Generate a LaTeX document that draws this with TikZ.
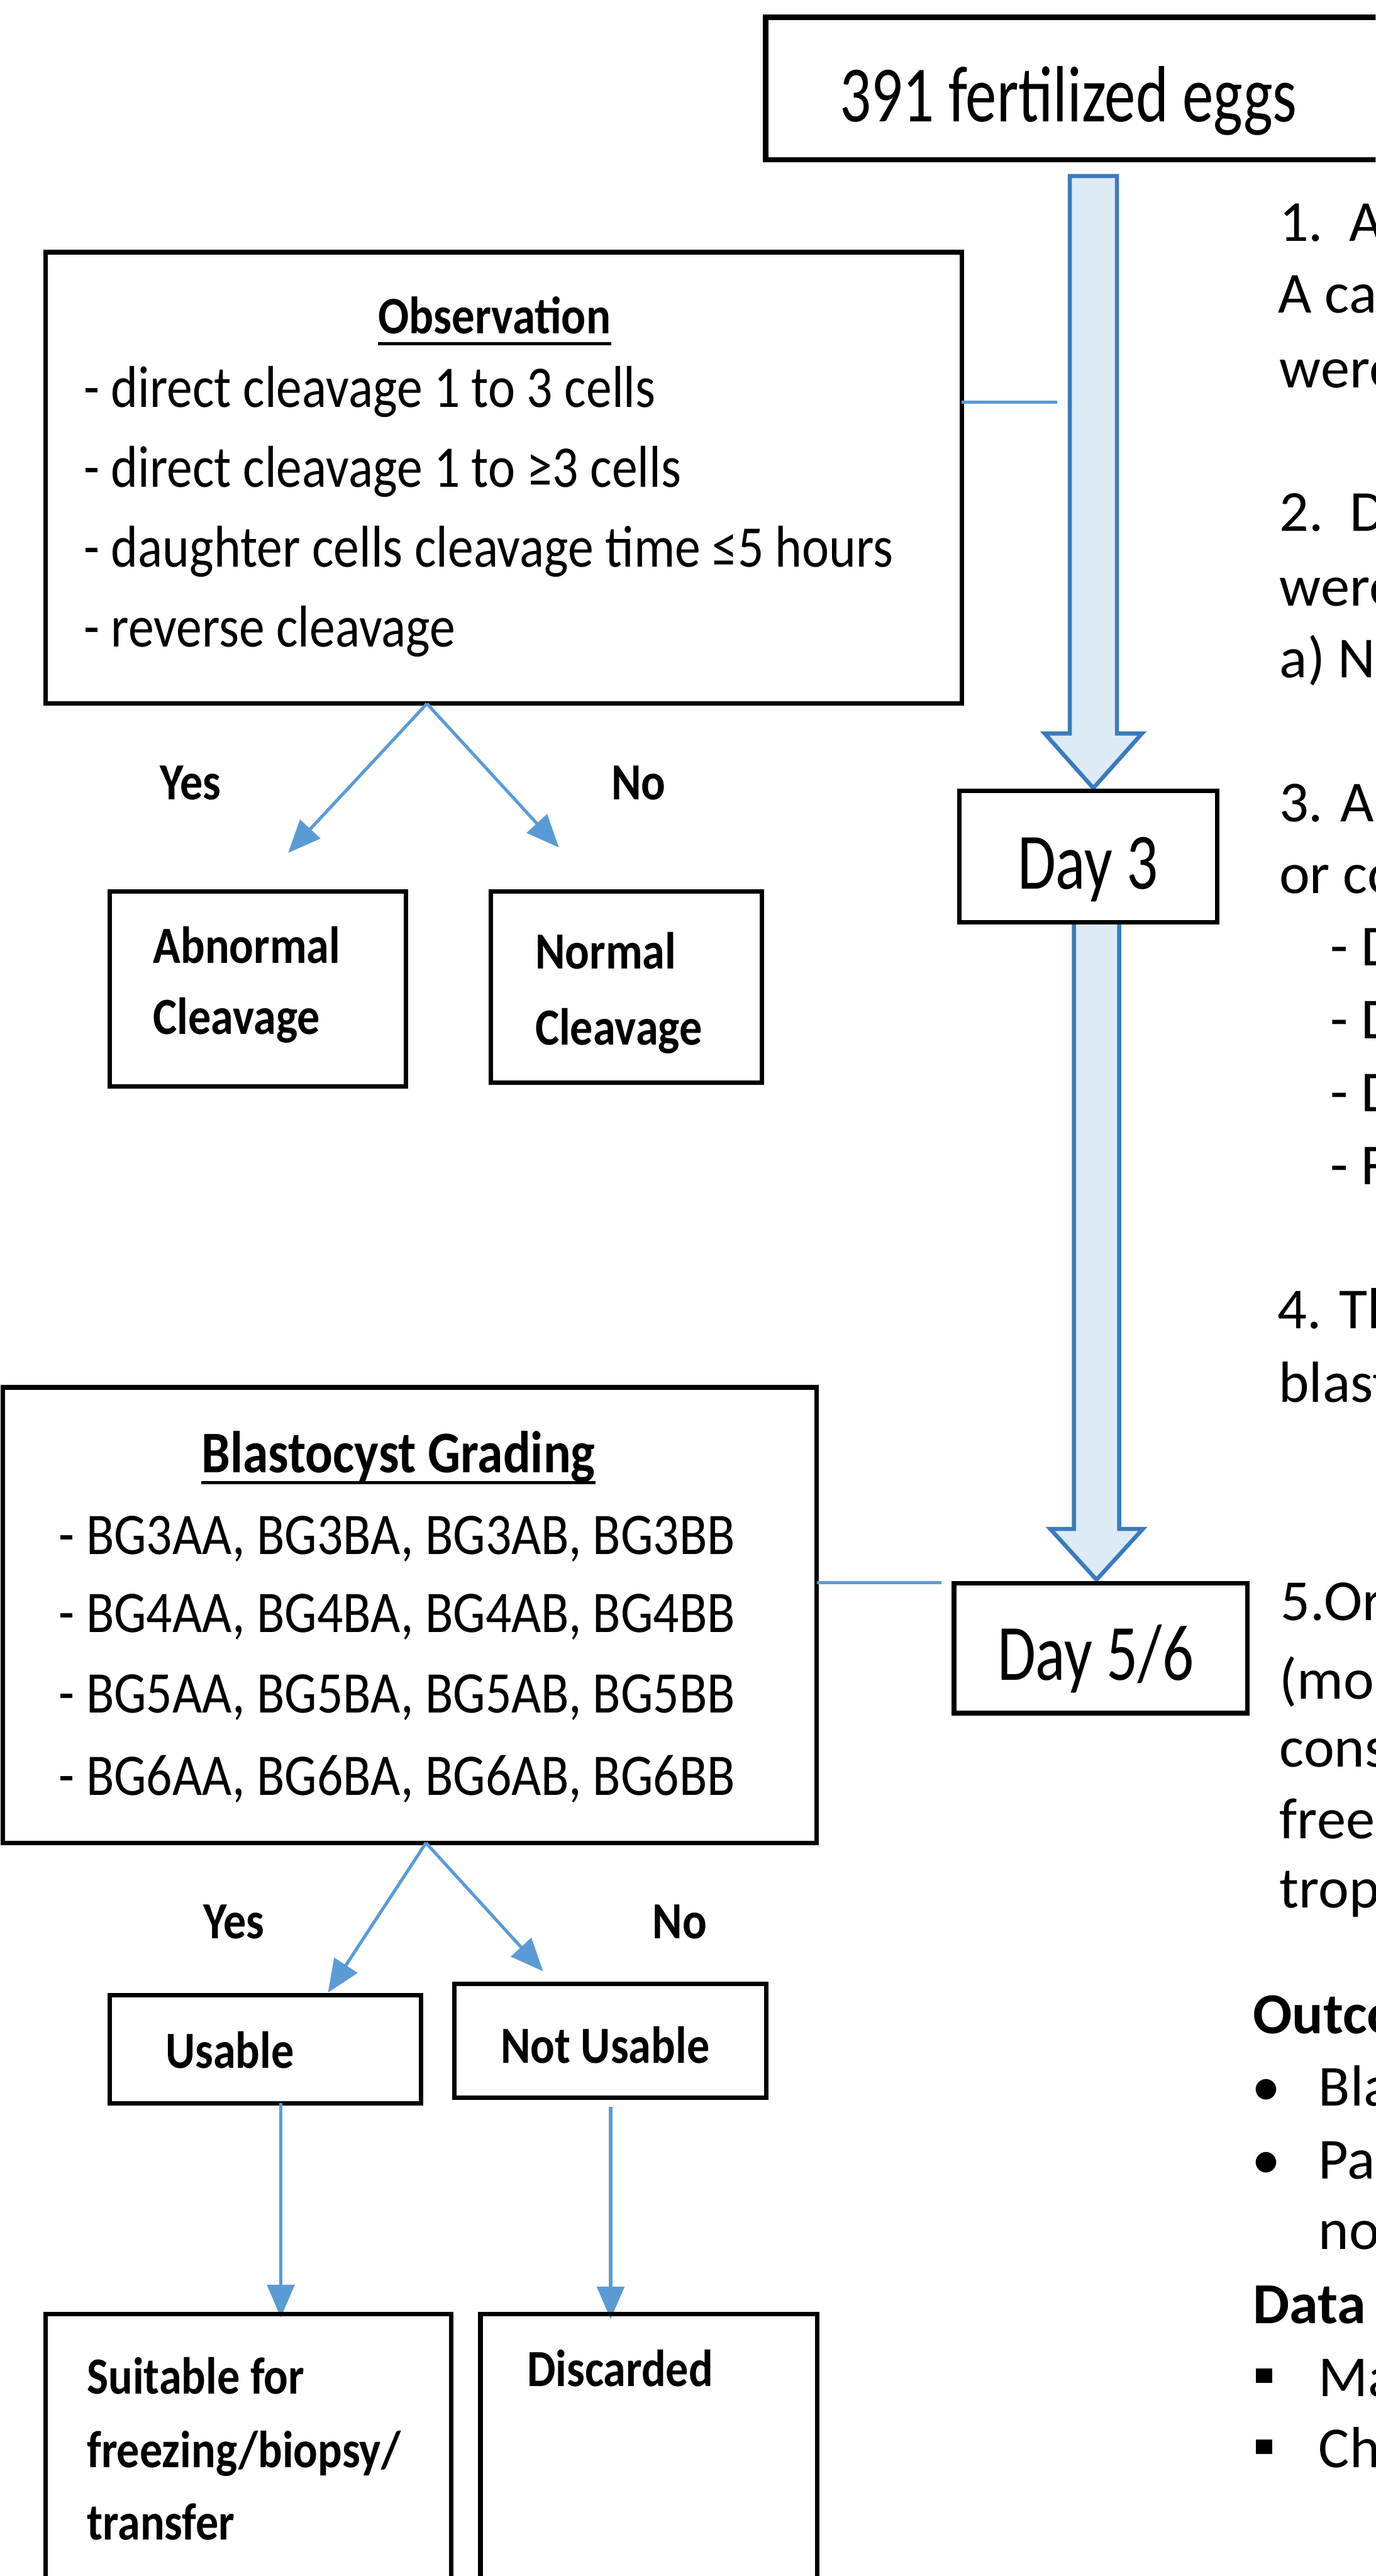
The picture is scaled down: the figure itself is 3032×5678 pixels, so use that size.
\documentclass[tikz,border=0pt]{standalone}
\usepackage{fontspec}
\setmainfont{Carlito}
\newfontfamily\lf[FakeStretch=0.87]{Carlito}
\newfontfamily\cf[FakeStretch=0.78]{Carlito}
\usetikzlibrary{arrows.meta,fit,calc}
\definecolor{conn}{RGB}{91,155,213}
\definecolor{barrow}{RGB}{58,123,190}
\definecolor{bfill}{RGB}{221,235,247}
\begin{document}
\begin{tikzpicture}[x=0.01cm,y=-0.01cm,
  box/.style={draw=black, line width=0.1cm, inner sep=0pt},
  lab/.style={inner sep=0pt, anchor=base west, font=\lf\fontsize{37}{44}\selectfont},
  blab/.style={inner sep=0pt, anchor=base west, font=\lf\bfseries\fontsize{32.7}{40}\selectfont},
  ttl/.style={inner sep=0pt, anchor=base, font=\lf\bfseries\fontsize{33}{40}\selectfont},
  big/.style={inner sep=0pt, anchor=base, font=\cf\fontsize{50}{60}\selectfont},
  rt/.style={inner sep=0pt, anchor=base west, font=\fontsize{36.4}{44}\selectfont},
  rtb/.style={inner sep=0pt, anchor=base west, font=\bfseries\fontsize{36.4}{44}\selectfont},
  conn/.style={draw=conn, line width=0.07cm, -{Triangle[length=0.72cm,width=0.6cm]}},
  cline/.style={draw=conn, line width=0.07cm},
  blk/.style={draw=barrow, fill=bfill, line width=0.09cm, line join=miter},
  uline/.style={draw=black, line width=0.07cm}
]
\path[use as bounding box] (0,0) rectangle (3032,5678);
\clip (0,0) rectangle (3032,5678);
\fill[white] (0,0) rectangle (3032,5678);

% ---------- top box ----------
\node[box, line width=0.12cm, fit={(1688,38) (3120,352)}] (top) {};
\node[big] (toptxt) at (2355,268) {391 fertilized eggs};

% ---------- block arrows ----------
\draw[blk] (2358,388) -- (2462,388) -- (2462,1617) -- (2517,1617) -- (2410,1737)
  -- (2303,1617) -- (2358,1617) -- cycle;
\draw[blk] (2367,2033) -- (2467,2033) -- (2467,3370) -- (2519,3370) -- (2417,3482)
  -- (2315,3370) -- (2367,3370) -- cycle;

% ---------- Day boxes ----------
\node[box, fit={(2115,1743) (2683,2033)}] (day3) {};
\node[big] (day3t) at (2398,1960) {Day 3};
\node[box, fit={(2103,3490) (2750,3776)}] (day56) {};
\node[big] (day56t) at (2415,3703) {Day 5/6};

% ---------- Observation ----------
\node[box, fit={(100,556) (2120,1551)}] (obs) {};
\node[ttl] (obst) at (1090,736) {Observation};
\draw[uline] ($(obst.base west)+(0,22)$) -- ($(obst.base east)+(0,22)$);
\node[lab] (o1) at (184,898) {- direct cleavage 1 to 3 cells};
\node[lab] (o2) at (184,1074) {- direct cleavage 1 to ≥3 cells};
\node[lab] (o3) at (184,1250) {- daughter cells cleavage time ≤5 hours};
\node[lab] (o4) at (184,1426) {- reverse cleavage};
\coordinate (obsr) at (2120,887);
\coordinate (obsre) at (2330,887);
\draw[cline] (obsr) -- (obsre);

\node[blab] (yes1) at (352,1762) {Yes};
\node[blab] (no1) at (1347,1762) {No};
\coordinate (obsfork) at (941,1551);
\coordinate (abntip) at (635,1880);
\coordinate (normtip) at (1232,1868);
\draw[conn] (obsfork) -- (abntip);
\draw[conn] (obsfork) -- (normtip);

\node[box, fit={(242,1965) (895,2395)}] (abn) {};
\node[blab] (abn1) at (337,2123) {Abnormal};
\node[blab] (abn2) at (337,2279) {Cleavage};
\node[box, fit={(1082,1965) (1679,2386)}] (norm) {};
\node[blab] (norm1) at (1179,2136) {Normal};
\node[blab] (norm2) at (1179,2303) {Cleavage};

% ---------- Blastocyst grading ----------
\node[box, fit={(6,3058) (1800,4062)}] (blast) {};
\node[ttl, font=\lf\bfseries\fontsize{37}{44}\selectfont] (blastt) at (878,3246) {Blastocyst Grading};
\draw[uline] ($(blastt.base west)+(0,22)$) -- ($(blastt.base east)+(0,22)$);
\node[lab] (b1) at (129,3426) {- BG3AA, BG3BA, BG3AB, BG3BB};
\node[lab] (b2) at (129,3598) {- BG4AA, BG4BA, BG4AB, BG4BB};
\node[lab] (b3) at (129,3775) {- BG5AA, BG5BA, BG5AB, BG5BB};
\node[lab] (b4) at (129,3957) {- BG6AA, BG6BA, BG6AB, BG6BB};
\coordinate (blastr) at (1800,3488);
\coordinate (blastre) at (2075,3488);
\draw[cline] (blastr) -- (blastre);

\node[blab] (yes2) at (448,4273) {Yes};
\node[blab] (no2) at (1438,4273) {No};
\coordinate (bfork) at (939,4062);
\coordinate (usetip) at (723,4392);
\coordinate (nusetip) at (1197,4345);
\draw[conn] (bfork) -- (usetip);
\draw[conn] (bfork) -- (nusetip);

\node[box, fit={(242,4398) (928,4636)}] (use) {};
\node[blab] (uset) at (364,4559) {Usable};
\node[box, fit={(1001,4373) (1689,4624)}] (nuse) {};
\node[blab] (nuset) at (1103,4547) {Not Usable};

\coordinate (usebot) at (619,4636);
\coordinate (suittip) at (619,5108);
\coordinate (nusebot) at (1346,4644);
\coordinate (disctip) at (1346,5112);
\draw[conn] (usebot) -- (suittip);
\draw[conn] (nusebot) -- (disctip);

\node[box, fit={(100,5101) (995,5760)}] (suit) {};
\node[blab] (s1) at (191,5276) {Suitable for};
\node[blab] (s2) at (191,5439) {freezing/biopsy/};
\node[blab] (s3) at (191,5598) {transfer};
\node[box, fit={(1059,5101) (1801,5760)}] (disc) {};
\node[blab] (disct) at (1161,5260) {Discarded};

% ---------- right column text (cut off at the edge) ----------
\node[rt] (r1) at (2819,531) {1.\ \ A};
\node[rt] (r2) at (2817,690) {A ca};
\node[rt] (r3) at (2820,854) {were};
\node[rt] (r4) at (2820,1170) {2.\ \ D};
\node[rt] (r5) at (2820,1335) {were};
\node[rt] (r6) at (2820,1493) {a) N};
\node[rt] (r7) at (2819,1811) {3. A};
\node[rt] (r8) at (2819,1969) {or co};
\node[rt] (r9) at (2932,2129) {- D};
\node[rt] (r10) at (2932,2289) {- D};
\node[rt] (r11) at (2932,2450) {- D};
\node[rt] (r12) at (2932,2611) {- F};
\node[rt] (r13) at (2816,2929) {4. Th};
\node[rt] (r14) at (2818,3091) {blast};
\node[rt] (r15) at (2822,3571) {5.Or};
\node[rt] (r16) at (2820,3745) {(mo};
\node[rt] (r17) at (2820,3895) {cons};
\node[rt] (r18) at (2820,4053) {free};
\node[rt] (r19) at (2820,4205) {trop};
\node[rtb] (r20) at (2761,4482) {Outco};
\node[rt] (r21) at (2758,4642) {\makebox[1.48cm][l]{•}Bla};
\node[rt] (r22) at (2758,4803) {\makebox[1.48cm][l]{•}Pa};
\node[rt] (r23) at (2906,4958) {no};
\node[rtb] (r24) at (2761,5122) {Data};
\node[rt] (r25) at (2767,5282) {\makebox[1.39cm][l]{\rule[0.3cm]{0.37cm}{0.32cm}}Ma};
\node[rt] (r26) at (2767,5439) {\makebox[1.39cm][l]{\rule[0.3cm]{0.37cm}{0.32cm}}Ch};
\end{tikzpicture}
\end{document}
